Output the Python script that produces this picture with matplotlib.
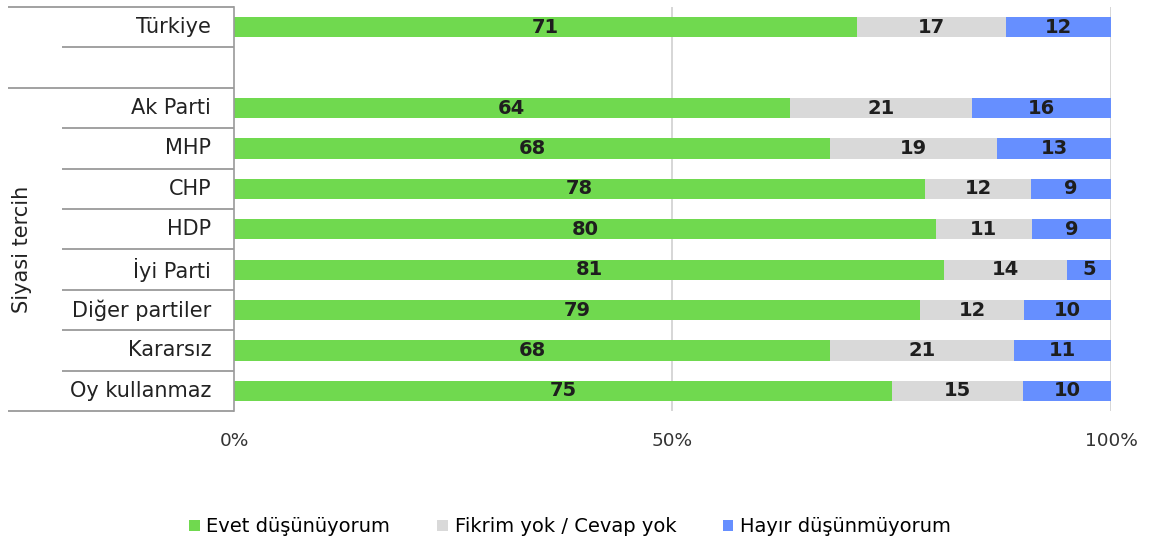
import matplotlib
matplotlib.use("Agg")
import matplotlib.pyplot as plt
from matplotlib.patches import Patch
import numpy as np

# rows (top to bottom); empty string = spacer row
categories = ["Türkiye", "", "Ak Parti", "MHP", "CHP", "HDP", "İyi Parti",
              "Diğer partiler", "Kararsız", "Oy kullanmaz"]
evet = [71, None, 64, 68, 78, 80, 81, 79, 68, 75]
fikrim_yok = [17, None, 21, 19, 12, 11, 14, 12, 21, 15]
hayir = [12, None, 16, 13, 9, 9, 5, 10, 11, 10]
series_names = ["Evet düşünüyorum", "Fikrim yok / Cevap yok", "Hayır düşünmüyorum"]
group_label = "Siyasi tercih"
tick_vals = [0, 50, 100]
tick_labels = ["0%", "50%", "100%"]

_GREEN = "#70d94f"
_GRAY = "#d9d9d9"
_BLUE = "#668fff"
_LINE = "#9a9a9a"
colors = [_GREEN, _GRAY, _BLUE]

plt.rcParams.update({"font.family": "DejaVu Sans", "font.size": 11})

fig = plt.figure(figsize=(11.54, 5.47), dpi=100)
ax = fig.add_axes([0.2028, 0.2486, 0.7599, 0.7386])

for i, cat in enumerate(categories):
    if evet[i] is None:
        continue
    vals = np.array([evet[i], fikrim_yok[i], hayir[i]], dtype=float)
    shares = vals / vals.sum() * 100
    left = 0.0
    for v, s, c in zip(vals, shares, colors):
        ax.barh(i, s, left=left, height=0.5, color=c, edgecolor="none", zorder=2)
        ax.text(left + s / 2, i, f"{int(v)}", ha="center", va="center",
                fontsize=14, fontweight="heavy", color="#1e1e1e", zorder=3)
        left += s

ax.set_xlim(0, 100)
ax.set_ylim(len(categories) - 0.5, -0.5)
ax.set_xticks(tick_vals)
ax.set_xticklabels(tick_labels, fontsize=13.3, color="#333333")
ax.tick_params(axis="x", length=0, pad=15)
ax.set_yticks([])
for side in ["top", "right", "bottom"]:
    ax.spines[side].set_visible(False)
ax.spines["left"].set_color(_LINE)
ax.spines["left"].set_linewidth(1.2)
for x in [50, 100]:
    ax.axvline(x, color="#d0d0d0", linewidth=1.2, zorder=1)

# left-hand category table
tr = ax.get_yaxis_transform()
x_short = (62 - 234) / 877
x_long = (8 - 234) / 877
long_edges = {-0.5, 1.5, len(categories) - 0.5}
for e in np.arange(-0.5, len(categories), 1.0):
    x0 = x_long if e in long_edges else x_short
    ax.plot([x0, 0], [e, e], transform=tr, color=_LINE, linewidth=1.3,
            clip_on=False, solid_capstyle="butt")
for i, cat in enumerate(categories):
    if cat:
        ax.text(-0.026, i, cat, transform=tr, ha="right", va="center",
                fontsize=15, color="#222222")
ax.text((22 - 234) / 877, (2 - 0.5 + len(categories) - 0.5) / 2, group_label,
        transform=tr, rotation=90, ha="center", va="center", fontsize=15,
        color="#222222")

handles = [Patch(facecolor=c, edgecolor="none") for c in colors]
fig.legend(handles, series_names, loc="center", bbox_to_anchor=(0.494, 0.037),
           ncol=3, frameon=False, fontsize=14, handlelength=0.55,
           handleheight=0.55, handletextpad=0.35, columnspacing=2.4)

fig.savefig("out.png", dpi=100)
